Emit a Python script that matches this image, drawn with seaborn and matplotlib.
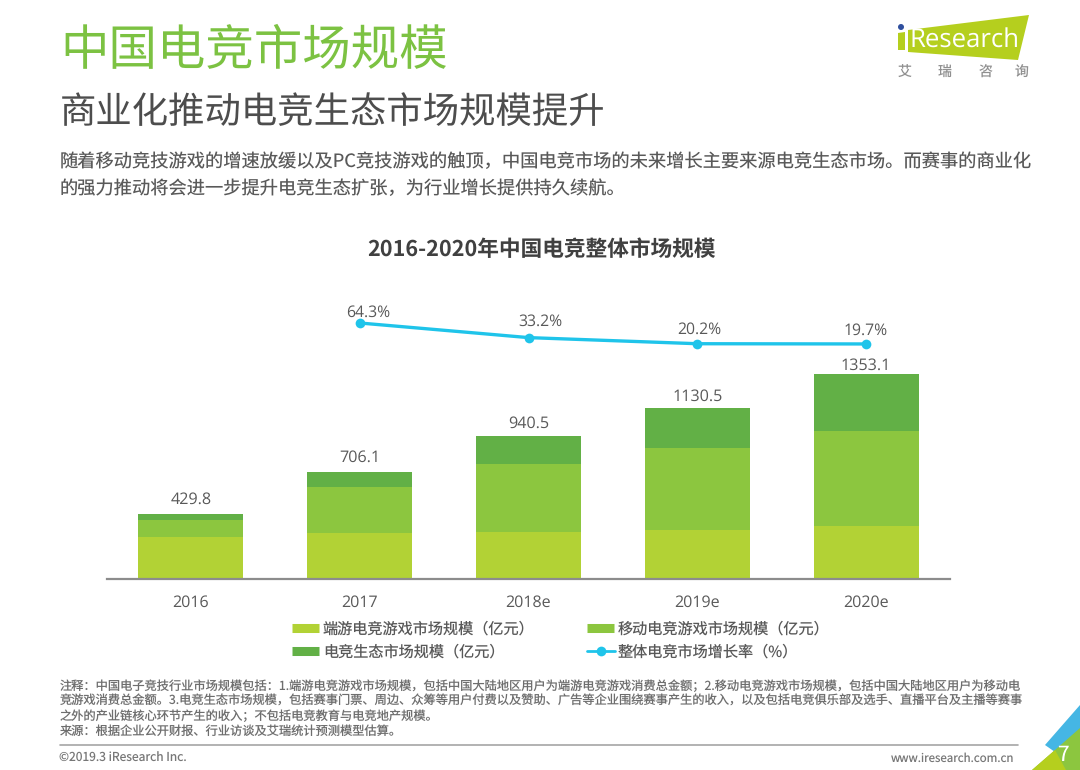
import matplotlib
matplotlib.use('Agg')
import matplotlib.pyplot as plt
from matplotlib.patches import Polygon, Circle
import numpy as np
import seaborn as sns

years = ['2016', '2017', '2018e', '2019e', '2020e']
pc_game = [277, 303, 310, 323, 350]
mobile_game = [112, 302, 449, 541, 627]
eco = [40.8, 101.1, 181.5, 266.5, 376.1]
totals = ['429.8', '706.1', '940.5', '1130.5', '1353.1']
rate_x = [1, 2, 3, 4]
rate = [64.3, 33.2, 20.2, 19.7]

series_names = ['端游电竞游戏市场规模（亿元）', '移动电竞游戏市场规模（亿元）', '电竞生态市场规模（亿元）', '整体电竞市场增长率（%）']
title = '中国电竞市场规模'
subtitle = '商业化推动电竞生态市场规模提升'
intro = ['随着移动竞技游戏的增速放缓以及PC竞技游戏的触顶，中国电竞市场的未来增长主要来源电竞生态市场。而赛事的商业化',
         '的强力推动将会进一步提升电竞生态扩张，为行业增长提供持久续航。']
chart_title = '2016-2020年中国电竞整体市场规模'
notes = ['注释：中国电子竞技行业市场规模包括：1.端游电竞游戏市场规模，包括中国大陆地区用户为端游电竞游戏消费总金额；2.移动电竞游戏市场规模，包括中国大陆地区用户为移动电',
         '竞游戏消费总金额。3.电竞生态市场规模，包括赛事门票、周边、众筹等用户付费以及赞助、广告等企业围绕赛事产生的收入，以及包括电竞俱乐部及选手、直播平台及主播等赛事',
         '之外的产业链核心环节产生的收入；不包括电竞教育与电竞地产规模。',
         '来源：根据企业公开财报、行业访谈及艾瑞统计预测模型估算。']

C_PC = '#b2d235'
C_MOB = '#8cc63f'
C_ECO = '#62b046'
C_LINE = '#1fc4ea'
C_TXT = '#595959'
LATIN = ['Open Sans', 'DejaVu Sans']

sns.set_theme(style='white')
plt.rcParams['font.family'] = ['Noto Sans CJK SC', 'DejaVu Sans']
plt.rcParams['text.hinting'] = 'no_hinting'

W, H = 1080, 770
fig = plt.figure(figsize=(W / 100, H / 100), dpi=100)

# page layer in pixel coordinates
page = fig.add_axes([0, 0, 1, 1])
page.set_xlim(0, W)
page.set_ylim(H, 0)
page.axis('off')

page.text(60, 50, title, fontsize=34.9, color='#7cc242', va='center', ha='left')
page.text(60, 113, subtitle, fontsize=26.2, color='#4d4d4d', va='center', ha='left')
for i, line in enumerate(intro):
    page.text(60, 162 + i * 27, line, fontsize=13.15, color=C_TXT, va='center', ha='left')
page.text(541, 250, chart_title, fontsize=15.6, color='#404040', weight='bold', va='center', ha='center')
for i, line in enumerate(notes):
    page.text(60, 686 + i * 15, line, fontsize=8.8, color='#6e6e6e', va='center', ha='left')

page.plot([60, 1018], [745, 745], color='#a6a6a6', lw=1.2)
page.text(59, 758, '©2019.3 iResearch Inc.', fontsize=8.7, color='#777777', va='center', ha='left')
page.text(1014, 758, 'www.iresearch.com.cn', fontsize=8.3, color='#777777', va='center', ha='right')

# corner decoration
page.add_patch(Polygon([[1080, 705], [1045, 745], [1055, 752], [1080, 730]], color='#45b6e4', lw=0))
page.add_patch(Polygon([[1080, 728], [1055, 750], [1032, 770], [1080, 770]], color='#8cc63f', lw=0))
page.add_patch(Polygon([[1055, 750], [1032, 770], [1066, 770]], color='#b5cf1e', lw=0))
page.text(1063, 755, '7', fontsize=15, color='white', va='center', ha='center')

# logo
page.add_patch(Polygon([[908, 30], [1029, 15], [1018, 60], [908, 52]], color='#b5cf1e', lw=0))
page.add_patch(Circle((901, 27), 3, color='#2f4f9e', lw=0))
page.add_patch(Polygon([[898, 33], [905, 32], [905, 50], [898, 50]], color='#b5cf1e', lw=0))
page.text(909, 41, 'Research', fontsize=18.5, color='white', va='center', ha='left', family=LATIN)
for x, ch in zip([905, 945, 985, 1022], '艾瑞咨询'):
    page.text(x, 73, ch, fontsize=10, color='#909090', va='center', ha='center')

# chart axes: left 106.6..950.4, baseline at y=579
ax = fig.add_axes([106.6 / W, 1 - 579 / H, 843.8 / W, 289 / H])
ax.patch.set_alpha(0)
bottoms2 = np.array(pc_game)
bottoms3 = bottoms2 + np.array(mobile_game)
sns.barplot(x=years, y=pc_game, color=C_PC, width=0.622, saturation=1, linewidth=0, ax=ax)
sns.barplot(x=years, y=mobile_game, bottom=bottoms2, color=C_MOB, width=0.622, saturation=1, linewidth=0, ax=ax)
sns.barplot(x=years, y=eco, bottom=bottoms3, color=C_ECO, width=0.622, saturation=1, linewidth=0, ax=ax)
ax.set_xlim(-0.5, 4.5)
ax.set_ylim(0, 1907)
label_gap = [96, 92, 88, 74, 55]
for i, t in enumerate(totals):
    ax.text(i, bottoms3[i] + eco[i] + label_gap[i], t, fontsize=11.6, color=C_TXT, ha='center', va='center',
            family=LATIN)
ax.set_yticks([])
ax.set_ylabel('')
ax.tick_params(axis='x', length=0, pad=11, labelsize=11.5, labelcolor=C_TXT)
for lab in ax.get_xticklabels():
    lab.set_family(LATIN)
sns.despine(ax=ax, left=True)
ax.spines['bottom'].set_color('#8c8c8c')
ax.spines['bottom'].set_linewidth(1.6)

# growth rate on its own scale
ax2 = ax.twinx()
ax2.patch.set_alpha(0)
sns.lineplot(x=rate_x, y=rate, color=C_LINE, lw=2.4, marker='o', markersize=7,
             markeredgewidth=0, ax=ax2, legend=False)
ax2.set_xlim(-0.5, 4.5)
ax2.set_ylim(-480.4, 134.5)
ax2.set_yticks([])
ax2.set_ylabel('')
sns.despine(ax=ax2, left=True, right=True, bottom=True)
label_dx = [0.05, 0.07, 0.01, 0.0]
label_dy = [23, 33, 31, 29]
for x, r, dx, dy in zip(rate_x, rate, label_dx, label_dy):
    ax2.text(x + dx, r + dy, f'{r}%', fontsize=11.3, color=C_TXT, ha='center', va='center', family=LATIN)

# legend drawn by hand so it sits where the original has it
for x, y, name, col in [(292, 628, series_names[0], C_PC), (587, 628, series_names[1], C_MOB),
                        (292, 651, series_names[2], C_ECO)]:
    page.plot([x, x + 27], [y, y], color=col, lw=6.5, solid_capstyle='butt')
    page.text(x + 31, y + 1, name, fontsize=10.9, color=C_TXT, va='center', ha='left')
page.plot([587, 615], [651, 651], color=C_LINE, lw=2)
page.plot([601], [651], color=C_LINE, marker='o', markersize=7, mew=0)
page.text(618, 652, series_names[3], fontsize=10.9, color=C_TXT, va='center', ha='left')

fig.savefig('out.png', dpi=100)
